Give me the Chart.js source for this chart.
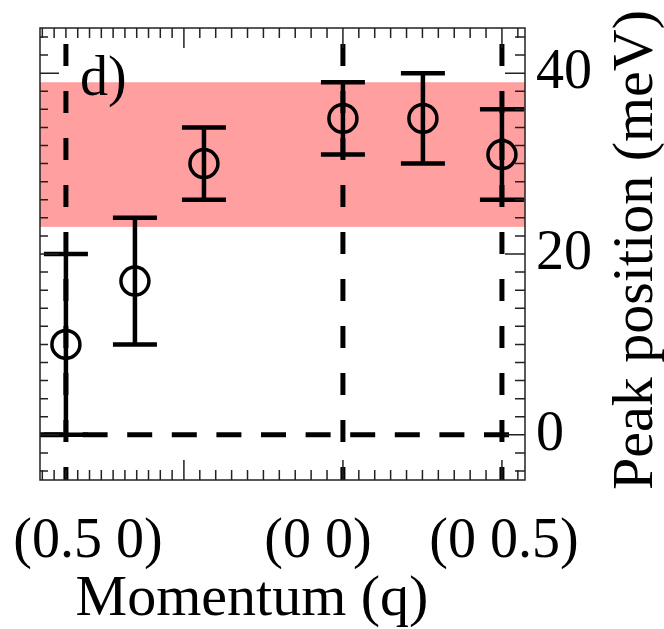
<!DOCTYPE html>
<html>
<head>
<meta charset="utf-8">
<script src="https://cdn.jsdelivr.net/npm/chart.js@4.4.0/dist/chart.umd.min.js"></script>
<style>
  html, body { margin: 0; padding: 0; background: #fff; }
  #chart { display: block; }
</style>
</head>
<body>
<canvas id="chart" width="664" height="629"></canvas>
<script>
// position along the momentum cut, (0 0) = 0
const momentum = [-1.742, -1.308, -0.874, 0, 0.503, 1.0];
// peak position (meV) and error bar ends
const peakPos = [10, 17, 30, 35, 35, 31];
const errLow = [0, 10, 26, 31, 30, 26];
const errHigh = [20, 24, 34, 39, 40, 36];

// shaded energy window (meV)
const bandRange = [23, 39];

// high symmetry points
const symPoints = [-1.742, 0, 1.0];
const symLabels = ['(0.5 0)', '(0 0)', '(0 0.5)'];
const yTicks = [0, 20, 40];

const FONT = '"Liberation Serif", "Times New Roman", serif';
const labelShift = [22, -25, 2]; // label nudges in px

// minor ticks
const xMajor = [-1, 0, 1];
const xMinor = [];
for (let k = 1; k <= 12; k++) xMinor.push(-1 - k * 0.0742);
for (let k = -9; k <= 11; k++) if (k % 10 !== 0) xMinor.push(k / 10);
const yMinor = [];
for (let v = -4; v <= 44; v += 2) if (v % 20 !== 0) yMinor.push(v);

const decor = {
  id: 'decor',
  beforeDatasetsDraw(chart) {
    const { ctx, chartArea: a, scales: { x, y } } = chart;
    ctx.save();
    // pink band
    ctx.fillStyle = '#ff9f9f';
    const yt = y.getPixelForValue(bandRange[1]);
    const yb = y.getPixelForValue(bandRange[0]);
    ctx.fillRect(a.left, yt, a.right - a.left, yb - yt);

    // dashed guide lines
    ctx.strokeStyle = '#000';
    ctx.lineWidth = 5;
    ctx.setLineDash([22, 25]);
    ctx.lineDashOffset = 9;
    symPoints.forEach(v => {
      const px = x.getPixelForValue(v);
      ctx.beginPath();
      ctx.moveTo(px, a.bottom);
      ctx.lineTo(px, a.top);
      ctx.stroke();
    });
    ctx.setLineDash([25, 19.6]);
    ctx.lineDashOffset = 2;
    const py = y.getPixelForValue(0);
    ctx.beginPath();
    ctx.moveTo(a.left, py);
    ctx.lineTo(a.right, py);
    ctx.stroke();
    ctx.setLineDash([]);

    // error bars
    ctx.lineWidth = 4.5;
    momentum.forEach((m, i) => {
      const px = x.getPixelForValue(m);
      const lo = y.getPixelForValue(errLow[i]);
      const hi = y.getPixelForValue(errHigh[i]);
      ctx.beginPath();
      ctx.moveTo(px, lo); ctx.lineTo(px, hi);
      ctx.moveTo(px - 22, lo); ctx.lineTo(px + 22, lo);
      ctx.moveTo(px - 22, hi); ctx.lineTo(px + 22, hi);
      ctx.stroke();
    });
    ctx.restore();
  },
  afterDraw(chart) {
    const { ctx, chartArea: a, scales: { x, y } } = chart;
    ctx.save();
    // frame
    ctx.strokeStyle = '#222';
    ctx.lineWidth = 1.5;
    ctx.strokeRect(a.left, a.top, a.right - a.left, a.bottom - a.top);

    // inward ticks
    const hTick = (v, len) => {
      const px = x.getPixelForValue(v);
      ctx.beginPath();
      ctx.moveTo(px, a.bottom); ctx.lineTo(px, a.bottom - len);
      ctx.moveTo(px, a.top); ctx.lineTo(px, a.top + len);
      ctx.stroke();
    };
    const vTick = (v, lenL, lenR) => {
      const py = y.getPixelForValue(v);
      ctx.beginPath();
      ctx.moveTo(a.left, py); ctx.lineTo(a.left + lenL, py);
      ctx.moveTo(a.right, py); ctx.lineTo(a.right - lenR, py);
      ctx.stroke();
    };
    xMinor.forEach(v => hTick(v, 10));
    xMajor.forEach(v => hTick(v, 20));
    yMinor.forEach(v => vTick(v, 8, 10));
    yTicks.forEach(v => vTick(v, 19, 20));

    // texts
    ctx.fillStyle = '#000';
    ctx.font = '56px ' + FONT;
    ctx.textAlign = 'left';
    ctx.textBaseline = 'alphabetic';
    ctx.fillText('d)', 80, 95);

    ctx.textAlign = 'center';
    symPoints.forEach((v, i) => {
      ctx.fillText(symLabels[i], x.getPixelForValue(v) + labelShift[i], 557);
    });

    ctx.font = '58px ' + FONT;
    ctx.fillText('Momentum (q)', 252, 615);

    ctx.translate(652, 250);
    ctx.rotate(-Math.PI / 2);
    ctx.fillText('Peak position (meV)', 0, 0);
    ctx.restore();
  }
};

new Chart(document.getElementById('chart'), {
  type: 'scatter',
  data: {
    datasets: [{
      data: momentum.map((m, i) => ({ x: m, y: peakPos[i] })),
      pointStyle: 'circle',
      pointRadius: 14,
      pointBorderWidth: 3.5,
      pointBorderColor: '#000',
      pointBackgroundColor: 'rgba(0,0,0,0)',
      showLine: false
    }]
  },
  options: {
    responsive: false,
    animation: false,
    layout: { padding: { left: 40, top: 28, right: 0, bottom: 0 } },
    plugins: { legend: { display: false }, tooltip: { enabled: false } },
    scales: {
      x: {
        type: 'linear',
        min: -1.905,
        max: 1.145,
        grid: { display: false, drawTicks: false },
        border: { display: false },
        ticks: { display: false },
        afterFit: s => {
          s.height = 149;
          s.paddingLeft = 0; s.paddingRight = 0;
        }
      },
      y: {
        type: 'linear',
        position: 'right',
        min: -5,
        max: 45,
        grid: { display: false, drawTicks: false },
        border: { display: false },
        ticks: {
          color: '#000',
          padding: 11,
          font: { family: FONT, size: 56 }
        },
        afterBuildTicks: s => { s.ticks = yTicks.map(v => ({ value: v })); },
        afterFit: s => {
          s.width = 139;
          s.paddingTop = 0; s.paddingBottom = 0;
        }
      }
    }
  },
  plugins: [decor]
});
</script>
</body>
</html>
